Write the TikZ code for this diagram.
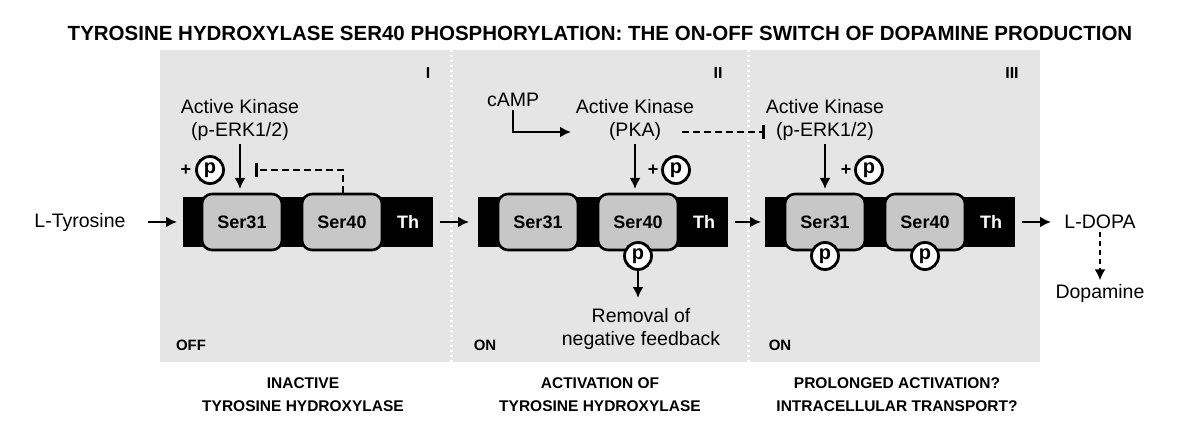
\documentclass[tikz,border=0pt]{standalone}
\usepackage{fontspec}
\setmainfont{Liberation Sans}
\usetikzlibrary{arrows.meta}
\begin{document}
\begin{tikzpicture}[x=1pt,y=-1pt,
  panel/.style={fill=black!10,draw=none},
  bar/.style={fill=black,draw=none},
  ser/.style={draw=black,line width=2.6pt,fill=black!22,rounded corners=10pt,minimum width=80pt,minimum height=56pt,font=\fontsize{18}{18}\selectfont\bfseries},
  th/.style={text=white,font=\fontsize{18}{18}\selectfont\bfseries},
  ph/.style={circle,draw=black,line width=2.8pt,fill=white,inner sep=0pt,minimum size=27pt,font=\fontsize{20}{20}\selectfont\bfseries},
  lbl/.style={font=\fontsize{19.5}{23}\selectfont},
  captxt/.style={font=\fontsize{15.5}{23}\selectfont\bfseries,align=center},
  arr/.style={line width=2.6pt,-{Latex[length=11pt,width=11pt]}},
  inh/.style={line width=2.6pt,dash pattern=on 7pt off 4pt,-{Bar[width=14pt]}},
  bigtitle/.style={font=\fontsize{20.5}{20.5}\selectfont\bfseries}
]
\useasboundingbox (0,0) rectangle (1200,441);
\fill[white] (0,0) rectangle (1200,441);
\node[bigtitle] (title) at (600,33) {TYROSINE HYDROXYLASE SER40 PHOSPHORYLATION: THE ON-OFF SWITCH OF DOPAMINE PRODUCTION};
% panels
\fill[panel] (160,50) rectangle (1040,362);
\draw[white,line width=2.5pt,dash pattern=on 2pt off 3pt] (451.5,50) -- (451.5,362);
\draw[white,line width=2.5pt,dash pattern=on 2pt off 3pt] (748.5,50) -- (748.5,362);
\node[font=\fontsize{16}{16}\selectfont\bfseries] (n1) at (428,73) {I};
\node[font=\fontsize{16}{16}\selectfont\bfseries] (n2) at (718,73) {II};
\node[font=\fontsize{16}{16}\selectfont\bfseries] (n3) at (1012,73) {III};
% bars
\fill[bar] (183,197) rectangle (433,247);
\fill[bar] (478,197) rectangle (728,247);
\fill[bar] (765,197) rectangle (1015,247);
\node[ser] (a31) at (242,222) {Ser31};
\node[ser] (a40) at (342,222) {Ser40};
\node[th] (ath) at (408,222) {Th};
\node[ser] (b31) at (538,222) {Ser31};
\node[ser] (b40) at (638,222) {Ser40};
\node[th] (bth) at (704,222) {Th};
\node[ser] (c31) at (825,222) {Ser31};
\node[ser] (c40) at (925,222) {Ser40};
\node[th] (cth) at (991,222) {Th};
% main flow
\node[lbl] (tyr) at (80,222) {L-Tyrosine};
\coordinate (t1) at (148,222); \coordinate (t2) at (177,222);
\draw[arr] (t1) -- (t2);
\coordinate (u1) at (440,222); \coordinate (u2) at (469,222);
\draw[arr] (u1) -- (u2);
\coordinate (v1) at (735,222); \coordinate (v2) at (761,222);
\draw[arr] (v1) -- (v2);
\coordinate (w1) at (1022,222); \coordinate (w2) at (1051,222);
\draw[arr] (w1) -- (w2);
\node[lbl] (dopa) at (1100,222) {L-DOPA};
\node[lbl] (dopamine) at (1100,293) {Dopamine};
\draw[arr,dash pattern=on 5pt off 4pt] (dopa.south) -- (dopamine.north);
% panel I
\node[lbl,align=center] (k1) at (240,120) {Active Kinase\\(p-ERK1/2)};
\coordinate (k1b) at (240,189);
\draw[arr] (k1.south) -- (k1b);
\node[ph] (p1) at (210,170) {p};
\node[font=\fontsize{18}{18}\selectfont\bfseries] (pl1) at (186,170) {+};
\coordinate (i1a) at (343,193); \coordinate (i1b) at (343,170); \coordinate (i1c) at (255,170);
\draw[inh] (i1a) -- (i1b) -- (i1c);
\node[font=\fontsize{15}{15}\selectfont\bfseries] (off) at (191,345) {OFF};
% panel II
\node[lbl] (camp) at (513,100) {cAMP};
\node[lbl,align=center] (k2) at (635,120) {Active Kinase\\(PKA)};
\coordinate (c2) at (571,132);
\draw[arr] (camp.south) |- (c2);
\coordinate (k2b) at (635,189);
\draw[arr] (k2.south) -- (k2b);
\node[ph] (p2) at (676,170) {p};
\node[font=\fontsize{18}{18}\selectfont\bfseries] (pl2) at (653,170) {+};
\node[ph] (p2s) at (638,256) {p};
\coordinate (r2) at (638,298);
\draw[arr] (p2s.south) -- (r2);
\node[lbl,align=center] (rem) at (641,329) {Removal of\\negative feedback};
\node[font=\fontsize{15}{15}\selectfont\bfseries] (on1) at (485,345) {ON};
\coordinate (d2a) at (682,132); \coordinate (d2b) at (765,132);
\draw[inh] (d2a) -- (d2b);
% panel III
\node[lbl,align=center] (k3) at (825,120) {Active Kinase\\(p-ERK1/2)};
\coordinate (k3b) at (825,189);
\draw[arr] (k3.south) -- (k3b);
\node[ph] (p3) at (869,170) {p};
\node[font=\fontsize{18}{18}\selectfont\bfseries] (pl3) at (846,170) {+};
\node[ph] (p3a) at (825,256) {p};
\node[ph] (p3b) at (925,256) {p};
\node[font=\fontsize{15}{15}\selectfont\bfseries] (on2) at (780,345) {ON};
% captions
\node[captxt] (cap1) at (303,395) {INACTIVE\\TYROSINE HYDROXYLASE};
\node[captxt] (cap2) at (600,395) {ACTIVATION OF\\TYROSINE HYDROXYLASE};
\node[captxt] (cap3) at (897,395) {PROLONGED ACTIVATION?\\INTRACELLULAR TRANSPORT?};
\end{tikzpicture}
\end{document}
